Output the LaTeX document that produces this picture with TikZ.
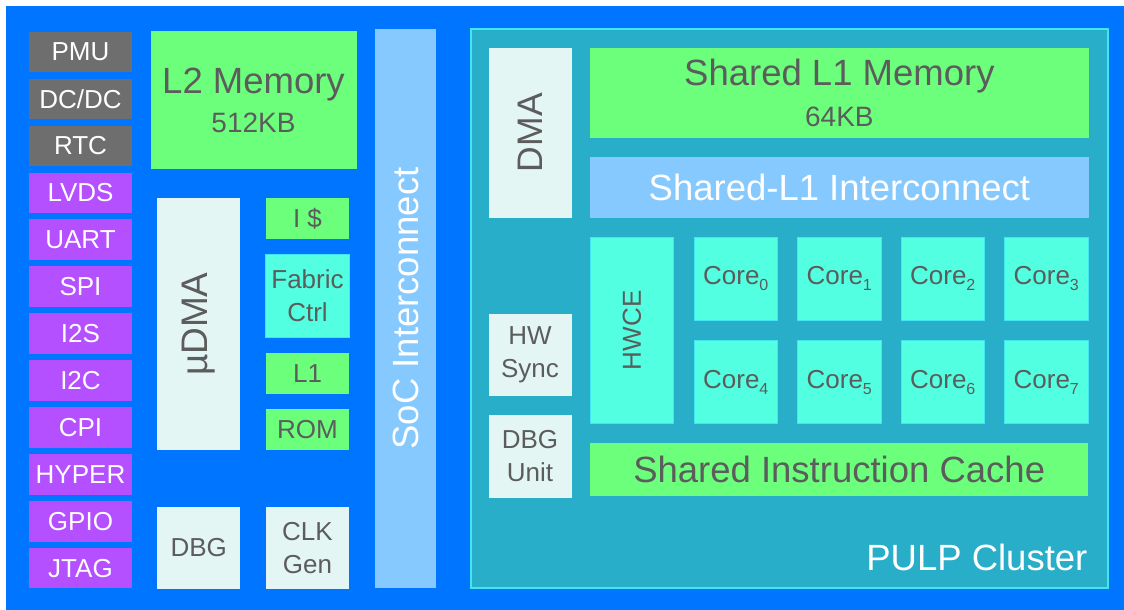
\documentclass[tikz,border=0pt]{standalone}
\usepackage{fontspec}
\setmainfont{Liberation Sans}
\usetikzlibrary{positioning}
\definecolor{socblue}{HTML}{0075FF}
\definecolor{pwrgray}{HTML}{6E6E6E}
\definecolor{iopurple}{HTML}{B450FF}
\definecolor{memgreen}{HTML}{6CFF7B}
\definecolor{mint}{HTML}{E3F6F3}
\definecolor{corecyan}{HTML}{52FFE1}
\definecolor{icoblue}{HTML}{86C9FF}
\definecolor{clteal}{HTML}{29AEC9}
\definecolor{cledge}{HTML}{40E6F0}
\definecolor{txtgray}{HTML}{5C5C5C}
\def\smallfont{\fontsize{26}{33}\selectfont}
\def\bigfont{\fontsize{36.5}{40}\selectfont}
\def\corelbl#1{Core\raisebox{-6pt}{\fontsize{16}{16}\selectfont #1}}

\begin{document}
\begin{tikzpicture}[x=1pt, y=-1pt,
    box/.style={rectangle, inner sep=0pt, outer sep=0pt, align=center, text=txtgray, font=\smallfont},
    periph/.style={box, fill=pwrgray, text=white, minimum width=103pt, minimum height=40.5pt},
    mem/.style={box, fill=memgreen},
    light/.style={box, fill=mint},
    core/.style={box, fill=corecyan, draw=cledge, line width=0.6pt},
    ico/.style={box, fill=icoblue, text=white, font=\bigfont}]
    %%%%% START %%%%%
    \useasboundingbox (0,0) rectangle (1124,610);
    \fill[socblue] (6,6) rectangle (1124,610);

    % peripherals
    \foreach \lbl [count=\i from 0] in {PMU,DC/DC,RTC}
        \node[periph] (pwr\i) at (80.5,{52+46.93*\i}) {\lbl};
    \foreach \lbl [count=\i from 3] in {LVDS,UART,SPI,I2S,I2C,CPI,HYPER,GPIO,JTAG}
        \node[periph, fill=iopurple] (io\i) at (80.5,{52+46.93*\i}) {\lbl};

    % fabric controller side
    \node[mem, minimum width=206pt, minimum height=138pt, font=\fontsize{28}{39}\selectfont] (l2) at (253.5,100) {{\bigfont L2 Memory}\\512KB};
    \node[light, rotate=90, minimum width=251.7pt, minimum height=82.7pt, font=\fontsize{37}{40}\selectfont] (udma) at (198.7,324.2) {µDMA};
    \node[mem, minimum width=83.6pt, minimum height=41pt] (icache) at (307.5,218.8) {I \$};
    \node[core, minimum width=83.6pt, minimum height=83pt] (fc) at (307.5,295.8) {Fabric\\Ctrl};
    \node[mem, minimum width=83.6pt, minimum height=41pt] (fcl1) at (307.5,373.2) {L1};
    \node[mem, minimum width=83.6pt, minimum height=41.3pt] (rom) at (307.5,429.4) {ROM};
    \node[light, minimum width=82.7pt, minimum height=82pt] (dbg) at (198.7,547.7) {DBG};
    \node[light, minimum width=83.6pt, minimum height=82pt] (clk) at (307.5,547.7) {CLK\\Gen};

    \node[ico, rotate=90, minimum width=559pt, minimum height=61pt] (soc) at (405.5,308.5) {SoC Interconnect};

    % cluster
    \node[box, fill=clteal, draw=cledge, line width=1.5pt, minimum width=637pt, minimum height=559pt] (cluster) at (789.3,308.7) {};
    \node[light, rotate=90, minimum width=170pt, minimum height=83pt, font=\fontsize{35.5}{40}\selectfont] (dma) at (530.2,132.7) {DMA};
    \node[mem, minimum width=498.7pt, minimum height=90pt, font=\fontsize{28}{41.5}\selectfont] (sl1) at (839.4,92.7) {{\bigfont Shared L1 Memory}\\64KB};
    \node[ico, minimum width=498.7pt, minimum height=61pt] (sl1ico) at (839.4,187.2) {Shared-L1 Interconnect};
    \node[core, rotate=90, minimum width=186pt, minimum height=82.6pt] (hwce) at (632,330.3) {HWCE};
    \foreach \j in {0,...,3} {
        \node[core, minimum width=83.5pt, minimum height=82.7pt] (core\j) at ({735.75+103.5*\j},278.7) {\corelbl{\j}};
        \pgfmathtruncatemacro\k{\j+4}
        \node[core, minimum width=83.5pt, minimum height=82.7pt] (core\k) at ({735.75+103.5*\j},382) {\corelbl{\k}};
    }
    \node[light, minimum width=83pt, minimum height=82.3pt] (hwsync) at (530,355.2) {HW\\Sync};
    \node[light, minimum width=83pt, minimum height=82.4pt] (dbgunit) at (530,456.5) {DBG\\Unit};
    \node[mem, minimum width=498pt, minimum height=52.7pt, font=\bigfont] (sicache) at (839.2,469.7) {Shared Instruction Cache};
    \node[anchor=base east, text=white, font=\bigfont, inner sep=0pt] (cltitle) at (1087.6,570) {PULP Cluster};
    %%%%% END %%%%%
\end{tikzpicture}
\end{document}
